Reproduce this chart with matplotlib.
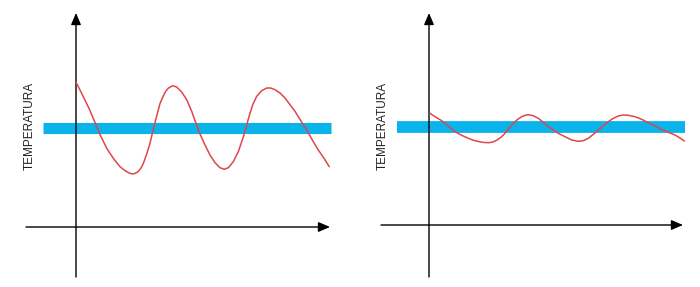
import matplotlib
matplotlib.use("Agg")
import matplotlib.pyplot as plt

# Left panel: large oscillation (time, temperature)
left_t = [0, 4, 7.3, 13.3, 19, 24, 30.7, 37.3, 44, 47.5, 50.7, 53.7, 56.7, 59.5, 62.3, 65,
          67.3, 70.7, 74, 77.7, 80.7, 84, 87.3, 89.8, 92.3, 96.7, 100.7, 105.7, 110.7,
          115.7, 120, 124, 129, 134, 139, 144, 148.3, 152.3, 157.3, 162.3, 167.3, 170,
          172.3, 176.7, 180.7, 185.7, 190.7, 194.7, 199, 204, 209, 214, 219, 224, 230.7,
          236.7, 242.3, 248, 253.3]
left_v = [144.7, 137, 130.3, 118, 104.5, 92.5, 78.7, 68.7, 60.3, 57.5, 55.3, 53.8, 53,
          53.8, 55.5, 59, 63.5, 73, 83.7, 99.5, 111, 123.5, 131, 135.8, 138.8, 141.3, 140,
          135, 127.3, 115.7, 103.5, 93, 82, 72, 64.3, 59.3, 57.7, 59.3, 65.3, 75.3, 90, 99,
          108, 122.3, 130.7, 136.3, 139, 139, 137.3, 134, 129, 122.3, 115.7, 107.5, 97,
          86.3, 77, 68.7, 60.3]

# Right panel: small oscillation
right_t = [1, 6, 12.7, 19.3, 26, 32.7, 39.3, 44.3, 49.3, 54.3, 59.3, 62, 64.3, 67.7, 72,
           76, 80, 84.3, 88.7, 92.7, 96, 99.3, 104.3, 109.3, 114.3, 119.3, 124.3, 129.3,
           136, 142.7, 149.3, 154.3, 159.3, 164.3, 169.3, 174.3, 179.3, 184.3, 189.3,
           194.3, 199.3, 206, 212.7, 219.3, 226, 232.7, 239.3, 246, 251, 255.3]
right_v = [111.7, 108.3, 104.3, 99, 93.3, 89.7, 86.7, 84.8, 83.5, 82.6, 82.3, 82.6, 83.2,
           84.8, 87.7, 91.7, 96.7, 101.7, 105.7, 108.3, 109.7, 110.3, 109.3, 106.7, 102.7,
           98.3, 95, 91.7, 88.3, 85, 83.7, 84.3, 86.7, 90.7, 95, 99.3, 103.3, 106.7, 109,
           110, 109.7, 108.3, 105.7, 102.3, 99, 95.7, 92.7, 90, 87, 84]

label = "TEMPERATURA"
BLUE = "#0AB4EA"
RED = "#E0454C"

fig = plt.figure(figsize=(7.0, 2.87), dpi=100)

panels = [
    dict(rect=[0, 0, 0.5, 1], xlim=(-76, 274), ylim=(-60, 227), t=left_t, v=left_v,
         yax=(-50, 214), xax=(-50, 254), band=(-33, 255, 99.5), bandw=8.0, txt=(-46, 101)),
    dict(rect=[0.5, 0, 0.5, 1], xlim=(-79, 271), ylim=(-62, 225), t=right_t, v=right_v,
         yax=(-52, 212), xax=(-48, 254), band=(-32, 256, 98), bandw=8.5, txt=(-46, 99)),
]

for p in panels:
    ax = fig.add_axes(p["rect"])
    ax.set_xlim(*p["xlim"])
    ax.set_ylim(*p["ylim"])
    ax.axis("off")
    # axes with arrows
    ax.annotate("", xy=(0, p["yax"][1]), xytext=(0, p["yax"][0]),
                arrowprops=dict(arrowstyle="-|>,head_length=0.7,head_width=0.3",
                                color="black", lw=1.0, shrinkA=0, shrinkB=0))
    ax.annotate("", xy=(p["xax"][1], 0), xytext=(p["xax"][0], 0),
                arrowprops=dict(arrowstyle="-|>,head_length=0.7,head_width=0.3",
                                color="black", lw=1.0, shrinkA=0, shrinkB=0))
    # blue band
    x0, x1, yb = p["band"]
    ax.plot([x0, x1], [yb, yb], color=BLUE, lw=p["bandw"], solid_capstyle="butt", zorder=2)
    # red curve
    ax.plot(p["t"], p["v"], color=RED, lw=1.1, zorder=3,
            solid_joinstyle="round", solid_capstyle="round")
    # label
    ax.text(p["txt"][0], p["txt"][1], label, rotation=90, ha="center", va="center",
            fontsize=8.5, family=["Liberation Sans", "DejaVu Sans"], color="#222222")

fig.savefig("out.png", dpi=100, facecolor="white")
